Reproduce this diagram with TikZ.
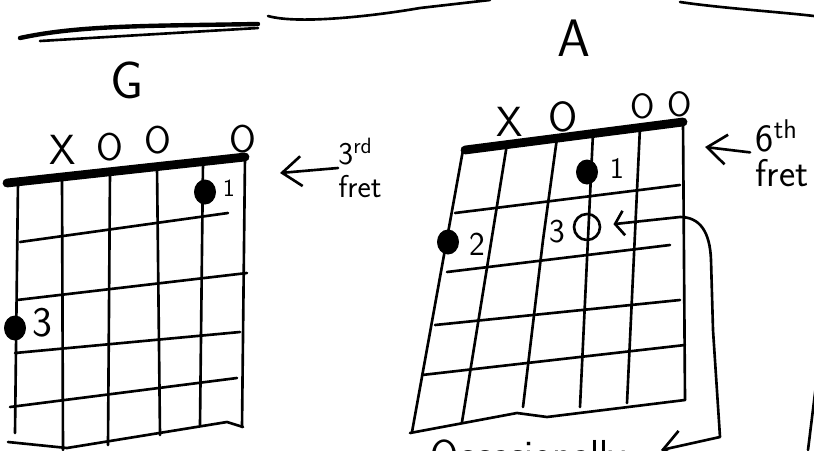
\documentclass[tikz,border=0pt]{standalone}
\usepackage{tikz}
\usetikzlibrary{arrows.meta,shapes.geometric}

\begin{document}
\begin{tikzpicture}[x=0.02cm,y=-0.02cm,
  pen/.style={line width=1.5pt,line cap=round,line join=round},
  nutbar/.style={line width=5pt,line cap=round},
  hand/.style={font=\sffamily\fontsize{#1pt}{#1pt}\selectfont,inner sep=0pt},
  fingerdot/.style={ellipse,fill=black,inner sep=0pt,minimum width=0.44cm,minimum height=0.5cm},
  opendot/.style={circle,draw=black,line width=1.5pt,inner sep=0pt,minimum size=0.52cm},
  fretbarb/.tip={Straight Barb[length=11pt,width=17pt]},
  openbarb/.tip={Straight Barb[length=5pt,width=14pt]}]
\clip (0,0) rectangle (814,450);
% strokes cut off at the top edge
\draw[pen,line width=2.5pt] (20,38) .. controls (80,25) and (150,26) .. (258,24);
\draw[pen] (40,41) -- (258,28);
\draw[pen] (268,16) .. controls (300,25) and (380,15) .. (420,8) -- (490,0);
\draw[pen] (680,2) .. controls (720,8) and (780,12) .. (814,16);
\draw[pen] (816,385) -- (808,450);
% G chord
\node[hand=30] (gname) at (127,80) {G};
\node[hand=24] (gx) at (63,150) {X};
\node[hand=22] (go1) at (110,147) {O};
\node[hand=22] (go2) at (158,140) {O};
\node[hand=22] (go3) at (243,139) {O};
\draw[nutbar] (7,183) -- (245,157);
\draw[pen] (18,182) -- (15,433);
\draw[pen] (62,177) -- (63,450);
\draw[pen] (110,172) -- (108,445);
\draw[pen] (157,167) -- (160,435);
\draw[pen] (203,162) -- (200,425);
\draw[pen] (245,157) -- (242,427);
\draw[pen] (20,242) -- (228,213);
\draw[pen] (17,300) -- (247,273);
\draw[pen] (15,353) -- (240,332);
\draw[pen] (10,407) -- (237,378);
\draw[pen] (8,442) -- (67,448) -- (227,422) -- (243,427);
\node[fingerdot] (gdot1) at (205,192) {};
\node[hand=14] (gfing1) at (229,188) {1};
\node[fingerdot] (gdot3) at (15,328) {};
\node[hand=24] (gfing3) at (42,323) {3};
\node[hand=18,align=left] (gfret) at (360,168) {3\textsuperscript{rd}\\[1pt]fret};
\coordinate (gfrettip) at (280,173);
\draw[pen,-fretbarb] (gfret.west) -- (gfrettip);
% A chord
\node[hand=30] (aname) at (574,38) {A};
\node[hand=24] (ax) at (510,122) {X};
\node[hand=24] (ao1) at (563,117) {O};
\node[hand=20] (ao2) at (643,106) {O};
\node[hand=20] (ao3) at (680,104) {O};
\draw[nutbar] (465,150) -- (683,122);
\draw[pen] (463,150) -- (412,432);
\draw[pen] (507,144) -- (462,422);
\draw[pen] (557,138) -- (543,240) -- (523,407);
\draw[pen] (593,133) -- (580,407);
\draw[pen] (640,127) -- (627,403);
\draw[pen] (683,122) -- (685,400);
\draw[pen] (455,213) -- (680,185);
\draw[pen] (447,272) -- (670,245);
\draw[pen] (435,325) -- (680,300);
\draw[pen] (422,375) -- (685,345);
\draw[pen] (410,433) -- (517,413) -- (547,417) -- (685,400);
\node[fingerdot] (adot1) at (587,172) {};
\node[hand=17] (afing1) at (617,168) {1};
\node[fingerdot] (adot2) at (448,242) {};
\node[hand=19] (afing2) at (477,244) {2};
\node[opendot] (aopen) at (587,227) {};
\node[hand=19] (afing3) at (557,232) {3};
\node[hand=22,align=left] (afret) at (782,153) {6\textsuperscript{th}\\[-2pt]fret};
\coordinate (afrettip) at (705,147);
\draw[pen,-fretbarb,shorten <=3pt] (afret.west) -- (afrettip);
\node[hand=23,anchor=base west] (occ) at (430,468) {Occasionally};
\draw[pen,openbarb-fretbarb,shorten <=7pt,shorten >=20pt] (aopen) -- (680,217)
  .. controls (700,217) and (710,232) .. (711,260) -- (713,330) -- (720,437) -- (occ.east);
\end{tikzpicture}
\end{document}
